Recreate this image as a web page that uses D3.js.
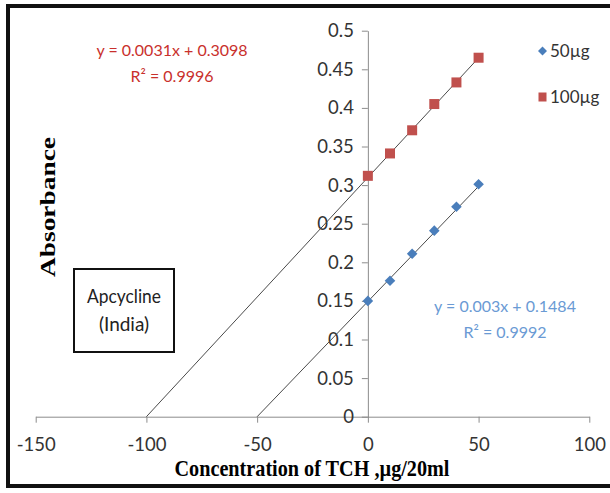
<!DOCTYPE html>
<meta charset="utf-8">
<script src="https://d3js.org/d3.v7.min.js"></script>
<style>
  body { margin: 0; background: #fff; }
  .tick text { font-family: Lato, "Open Sans", sans-serif; fill: #333; }
</style>
<div id="my_dataviz"></div>
<script>

// data
var concentrations = [0, 10, 20, 30, 40, 50];
var abs50 = [0.150, 0.176, 0.211, 0.241, 0.272, 0.301];
var abs100 = [0.312, 0.341, 0.371, 0.405, 0.433, 0.465];
var seriesNames = ["50µg", "100µg"];
var slopes = [0.003, 0.0031];
var intercepts = [0.1484, 0.3098];
var r2 = ["0.9992", "0.9996"];
var trendStart = [-50, -100];   // backward forecast of trendline
var xTicks = [-150, -100, -50, 0, 50, 100];
var yTicks = [0, 0.05, 0.1, 0.15, 0.2, 0.25, 0.3, 0.35, 0.4, 0.45, 0.5];
var yTickLabels = ["0", "0.05", "0.1", "0.15", "0.2", "0.25", "0.3", "0.35", "0.4", "0.45", "0.5"];

var W = 610, H = 493;
var sans = 'Lato, "Open Sans", sans-serif';
var serif = '"Liberation Serif", "DejaVu Serif", serif';
var colors = ["#4a7ebb", "#c0504d"];
var labelColors = ["#6a9ad4", "#c9302c"];

var svg = d3.select("#my_dataviz")
  .append("svg")
    .attr("width", W)
    .attr("height", H);

var x = d3.scaleLinear().domain([-150, 100]).range([35.7, 589.3]);
var y = d3.scaleLinear().domain([0, 0.5]).range([416.7, 30.7]);

// outer frame
svg.append("rect")
  .attr("x", 8).attr("y", 6)
  .attr("width", 606).attr("height", 480)
  .attr("fill", "none").attr("stroke", "#111").attr("stroke-width", 4);

// x axis at y = 0
var xAxis = svg.append("g")
  .attr("transform", "translate(0," + y(0) + ")")
  .call(d3.axisBottom(x).tickValues(xTicks).tickSize(6).tickSizeOuter(0).tickPadding(15)
    .tickFormat(function(d) { return d; }));
xAxis.select(".domain").attr("stroke", "#8c8c8c");
xAxis.selectAll(".tick line").attr("stroke", "#8c8c8c");
xAxis.selectAll(".tick text").style("font-size", "18.5px");

// y axis at x = 0
var yAxis = svg.append("g")
  .attr("transform", "translate(" + x(0) + ",0)")
  .call(d3.axisLeft(y).tickValues(yTicks).tickSize(6).tickSizeOuter(0).tickPadding(8)
    .tickFormat(function(d, i) { return yTickLabels[i]; }));
yAxis.select(".domain").attr("stroke", "#8c8c8c");
yAxis.selectAll(".tick line").attr("stroke", "#8c8c8c");
yAxis.selectAll(".tick text").style("font-size", "18.5px");

// trendlines
[0, 1].forEach(function(i) {
  var x0 = trendStart[i], x1 = concentrations[concentrations.length - 1];
  svg.append("line")
    .attr("x1", x(x0)).attr("y1", y(Math.max(0, slopes[i] * x0 + intercepts[i])))
    .attr("x2", x(x1)).attr("y2", y(slopes[i] * x1 + intercepts[i]))
    .attr("stroke", "#4a4a4a").attr("stroke-width", 1);
});

// markers
svg.append("g").selectAll("path")
  .data(concentrations.map(function(c, i) { return [c, abs50[i]]; }))
  .enter().append("path")
    .attr("transform", function(d) { return "translate(" + x(d[0]) + "," + y(d[1]) + ") rotate(45)"; })
    .attr("d", d3.symbol().type(d3.symbolSquare).size(56))
    .attr("fill", colors[0]);

svg.append("g").selectAll("rect")
  .data(concentrations.map(function(c, i) { return [c, abs100[i]]; }))
  .enter().append("rect")
    .attr("x", function(d) { return x(d[0]) - 5; })
    .attr("y", function(d) { return y(d[1]) - 5; })
    .attr("width", 10).attr("height", 10)
    .attr("fill", colors[1]);

// legend
svg.append("path")
  .attr("transform", "translate(542.5,51) rotate(45)")
  .attr("d", d3.symbol().type(d3.symbolSquare).size(40))
  .attr("fill", colors[0]);
svg.append("rect")
  .attr("x", 538.5).attr("y", 92.5).attr("width", 8).attr("height", 9)
  .attr("fill", colors[1]);
svg.selectAll(".leg")
  .data(seriesNames)
  .enter().append("text")
    .attr("x", 550)
    .attr("y", function(d, i) { return i ? 103 : 57; })
    .style("font-family", sans).style("font-size", "17px").attr("fill", "#333")
    .text(function(d) { return d; });

// equations
var eqPos = [[505, 312], [172, 56]];
[0, 1].forEach(function(i) {
  var g = svg.append("text")
    .attr("text-anchor", "middle")
    .style("font-family", sans).style("font-size", "16px")
    .attr("fill", labelColors[i]);
  g.append("tspan").attr("x", eqPos[i][0]).attr("y", eqPos[i][1])
    .text("y = " + slopes[i] + "x + " + intercepts[i]);
  g.append("tspan").attr("x", eqPos[i][0]).attr("y", eqPos[i][1] + 26)
    .text("R² = " + r2[i]);
});

// sample box
svg.append("rect")
  .attr("x", 74).attr("y", 269).attr("width", 100).attr("height", 83)
  .attr("fill", "#fff").attr("stroke", "#111").attr("stroke-width", 2);
var box = svg.append("text")
  .attr("text-anchor", "middle")
  .style("font-family", sans).style("font-size", "19px").attr("fill", "#222");
box.append("tspan").attr("x", 124).attr("y", 303).attr("textLength", 74).attr("lengthAdjust", "spacingAndGlyphs").text("Apcycline");
box.append("tspan").attr("x", 124).attr("y", 331).text("(India)");

// axis titles
svg.append("text")
  .attr("transform", "translate(55,207) rotate(-90)")
  .attr("text-anchor", "middle")
  .attr("textLength", 140).attr("lengthAdjust", "spacingAndGlyphs")
  .style("font-family", serif).style("font-weight", "bold").style("font-size", "22px")
  .text("Absorbance");

svg.append("text")
  .attr("x", 312).attr("y", 476)
  .attr("text-anchor", "middle")
  .attr("textLength", 275).attr("lengthAdjust", "spacingAndGlyphs")
  .style("font-family", serif).style("font-weight", "bold").style("font-size", "23px")
  .text("Concentration of TCH ,µg/20ml");

</script>
